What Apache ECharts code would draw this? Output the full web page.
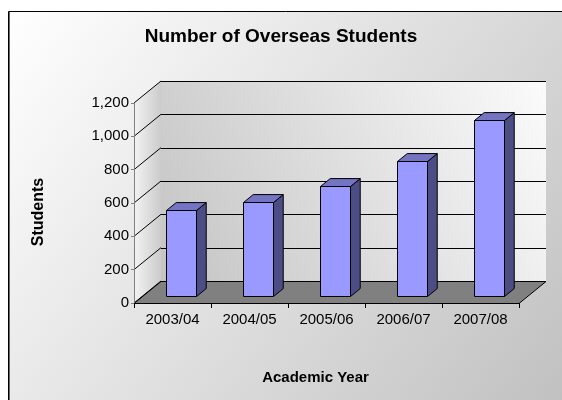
<!DOCTYPE html>
<html><head><meta charset="utf-8">
<script src="https://cdn.jsdelivr.net/npm/echarts@6/dist/echarts.min.js"></script>
<style>html,body{margin:0;padding:0;background:#fff}#c{width:562px;height:400px}</style>
</head><body><div id="c"></div>
<script>
const categories = ['2003/04', '2004/05', '2005/06', '2006/07', '2007/08'];
const students = [518, 566, 658, 810, 1058];
const yTicks = [0, 200, 400, 600, 800, 1000, 1200];
const titleText = 'Number of Overseas Students';
const xName = 'Academic Year';
const yName = 'Students';

const FONT = '"Liberation Sans", Arial, sans-serif';
const DEPTH = [27, -22];
const BAR_FRONT = 0.32, BAR_BACK = 0.68;
const BAR_W = 0.39;
const G = echarts.graphic;
const chart = echarts.init(document.getElementById('c'), null, {renderer: 'canvas'});

function px(v) { return Math.round(v) + 0.5; }

function renderWalls(params, api) {
  const cs = params.coordSys;
  const x0 = cs.x, x1 = cs.x + cs.width, yb = cs.y + cs.height, yt = cs.y;
  const dx = DEPTH[0], dy = DEPTH[1];
  const ch = [];
  ch.push({type: 'rect', shape: {x: x0 + dx, y: yt + dy, width: cs.width, height: cs.height},
    style: {fill: new G.LinearGradient(0, 1, 1, 0, [{offset: 0, color: '#c4c4c4'}, {offset: 1, color: '#fbfbfb'}])}});
  ch.push({type: 'polygon', shape: {points: [[x0, yb], [x0, yt], [x0 + dx, yt + dy], [x0 + dx, yb + dy]]},
    style: {fill: new G.LinearGradient(0, 0, 1, 0, [{offset: 0, color: '#f3f3f3'}, {offset: 1, color: '#cbcbcb'}])}});
  ch.push({type: 'polygon', shape: {points: [[x0, px(yb)], [x1, px(yb)], [x1 + dx, px(yb + dy)], [x0 + dx, px(yb + dy)]]},
    style: {fill: '#808080', stroke: '#000', lineWidth: 1}});
  yTicks.forEach(function (v) {
    const y = api.coord([0, v])[1];
    const yy = px(y + dy);
    ch.push({type: 'line', shape: {x1: x0 + dx, y1: yy, x2: x1 + dx, y2: yy}, style: {stroke: '#000', lineWidth: 1}});
    ch.push({type: 'line', shape: {x1: x0, y1: y, x2: x0 + dx, y2: y + dy}, style: {stroke: '#000', lineWidth: 1}});
  });
  return {type: 'group', children: ch};
}

function renderBar(params, api) {
  const i = api.value(0), v = api.value(1);
  const base = api.coord([i, 0]), top = api.coord([i, v]);
  const bw = api.size([1, 0])[0] * BAR_W;
  const fx = DEPTH[0] * BAR_FRONT, fy = DEPTH[1] * BAR_FRONT;
  const sx = DEPTH[0] * (BAR_BACK - BAR_FRONT), sy = DEPTH[1] * (BAR_BACK - BAR_FRONT);
  const l = px(base[0] + fx - bw / 2), r = px(base[0] + fx + bw / 2);
  const b = px(base[1] + fy), t = px(top[1] + fy);
  const st = {stroke: '#000', lineWidth: 1, lineJoin: 'miter'};
  return {type: 'group', children: [
    {type: 'polygon', shape: {points: [[r, b], [r, t], [r + sx, t + sy], [r + sx, b + sy]]}, style: Object.assign({fill: '#4d4d85'}, st)},
    {type: 'polygon', shape: {points: [[l, t], [r, t], [r + sx, t + sy], [l + sx, t + sy]]}, style: Object.assign({fill: '#7474c2'}, st)},
    {type: 'rect', shape: {x: l, y: t, width: r - l, height: b - t}, style: Object.assign({fill: '#9999ff'}, st)}
  ]};
}

const option = {
  animation: false,
  graphic: [
    {type: 'rect', z: -100, silent: true, shape: {x: 8.5, y: 11.5, width: 600, height: 450},
      style: {fill: new G.LinearGradient(0, 0, 1, 1, [{offset: 0, color: '#ffffff'}, {offset: 1, color: '#bababa'}], false), stroke: '#000', lineWidth: 1}},
    {type: 'line', z: -99, silent: true, shape: {x1: 9.5, y1: 12, x2: 9.5, y2: 400}, style: {stroke: '#666', lineWidth: 1}}
  ],
  title: {
    text: titleText, left: 281, textAlign: 'center', top: 27, padding: 0,
    textStyle: {fontFamily: FONT, fontSize: 19, fontWeight: 'bold', color: '#000'}
  },
  grid: {left: 134, right: 43, top: 103, bottom: 97, containLabel: false},
  xAxis: {
    type: 'category', data: categories, z: 6,
    name: xName, nameLocation: 'middle', nameGap: 67,
    nameTextStyle: {fontFamily: FONT, fontSize: 15, fontWeight: 'bold', color: '#000', padding: [0, 22, 0, 0]},
    axisLine: {lineStyle: {color: '#000', width: 1}},
    axisTick: {show: true, length: 5, lineStyle: {color: '#000'}},
    axisLabel: {fontFamily: FONT, fontSize: 15, color: '#000', margin: 9},
    splitLine: {show: false}
  },
  yAxis: {
    type: 'value', min: 0, max: 1200, interval: 200, z: 6,
    name: yName, nameLocation: 'middle', nameGap: 87, nameRotate: 90,
    nameTextStyle: {fontFamily: FONT, fontSize: 16, fontWeight: 'bold', color: '#000', padding: [0, 18, 0, 0]},
    axisLine: {show: true, lineStyle: {color: '#808080', width: 1}},
    axisTick: {show: true, length: 3, lineStyle: {color: '#808080'}},
    axisLabel: {fontFamily: FONT, fontSize: 15, color: '#000', margin: 5,
      formatter: function (v) { return v.toLocaleString('en-US'); }},
    splitLine: {show: false}
  },
  series: [
    {type: 'custom', z: 1, clip: false, silent: true, renderItem: renderWalls, data: [[0, 0]]},
    {type: 'custom', z: 2, clip: false, renderItem: renderBar,
      data: students.map(function (v, i) { return [i, v]; })}
  ]
};
chart.setOption(option);
</script></body></html>
